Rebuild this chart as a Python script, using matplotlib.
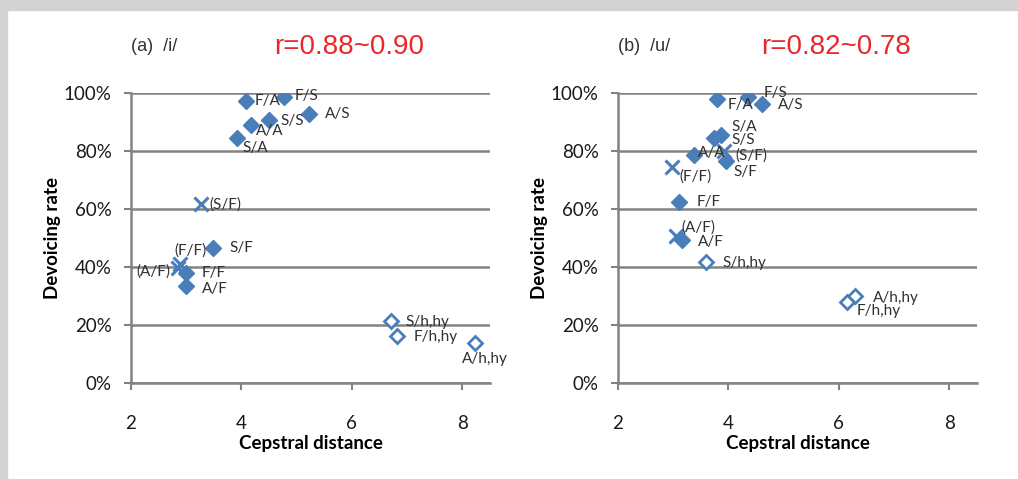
import matplotlib.pyplot as plt
from matplotlib.patches import Rectangle
from matplotlib.ticker import FuncFormatter

# (a) /i/
i_labels = ["F/A", "F/S", "A/S", "S/S", "A/A", "S/A", "(S/F)", "S/F",
            "(F/F)", "(A/F)", "F/F", "A/F", "S/h,hy", "F/h,hy", "A/h,hy"]
i_dist = [4.08, 4.77, 5.22, 4.49, 4.17, 3.92, 3.27, 3.48,
          2.89, 2.85, 2.99, 2.99, 6.70, 6.81, 8.22]
i_rate = [97.2, 98.6, 92.8, 90.7, 89.0, 84.5, 61.7, 46.6,
          41.0, 39.7, 37.9, 33.4, 21.4, 16.2, 13.8]

# (b) /u/
u_labels = ["F/A", "F/S", "A/S", "S/A", "S/S", "A/A", "(S/F)", "S/F",
            "(F/F)", "F/F", "(A/F)", "A/F", "S/h,hy", "A/h,hy", "F/h,hy"]
u_dist = [3.79, 4.35, 4.60, 3.86, 3.74, 3.37, 3.92, 3.95,
          2.98, 3.10, 3.05, 3.16, 3.59, 6.30, 6.14]
u_rate = [97.9, 98.6, 96.2, 85.5, 84.5, 78.6, 80.0, 76.6,
          74.5, 62.4, 50.7, 49.3, 41.7, 30.0, 27.9]

titles = ["(a)  /i/", "(b)  /u/"]
r_texts = ["r=0.88~0.90", "r=0.82~0.78"]

# label offsets in pixels (dx, dy, ha)
i_offsets = {
    "F/A": (9, 0, "left"), "F/S": (11, 1, "left"), "A/S": (16, 0, "left"),
    "S/S": (12, -1, "left"), "A/A": (5, -6, "left"), "S/A": (5, -10, "left"),
    "(S/F)": (8, 0, "left"), "S/F": (17, 0, "left"), "(F/F)": (10, 14, "center"),
    "(A/F)": (-8, -4, "right"), "F/F": (16, 0, "left"), "A/F": (16, -3, "left"),
    "S/h,hy": (15, -1, "left"), "F/h,hy": (17, -1, "left"),
    "A/h,hy": (10, -16, "center"),
}
u_offsets = {
    "F/A": (11, -6, "left"), "F/S": (16, 4, "left"), "A/S": (16, -1, "left"),
    "S/A": (11, 8, "left"), "S/S": (17, -2, "left"), "A/A": (4, 2, "left"),
    "(S/F)": (11, -5, "left"), "S/F": (8, -11, "left"), "(F/F)": (7, -10, "left"),
    "F/F": (18, 0, "left"), "(A/F)": (5, 8, "left"), "A/F": (16, -2, "left"),
    "S/h,hy": (17, -1, "left"), "A/h,hy": (17, -2, "left"),
    "F/h,hy": (10, -9, "left"),
}

blue = "#4a7ebb"
grid_gray = "#828282"
font = ["Lato", "DejaVu Sans"]
narrow = ["Liberation Sans Narrow", "Liberation Sans", "DejaVu Sans"]

W, H = 1018, 479
fig = plt.figure(figsize=(W / 100, H / 100), dpi=100)
fig.patches.append(Rectangle((0, 1 - 10 / H), 1, 10 / H, transform=fig.transFigure,
                             color="#d2d4d4", zorder=0))
fig.patches.append(Rectangle((0, 0), 7 / W, 1, transform=fig.transFigure,
                             color="#d2d4d4", zorder=0))


def marker_style(lab):
    if lab.startswith("("):
        return dict(marker="x", ms=10, mew=2.2, color=blue, ls="none")
    if "h,hy" in lab:
        return dict(marker="D", ms=7, mew=2, mfc="white", mec=blue, ls="none")
    return dict(marker="D", ms=8, color=blue, ls="none")


def draw_panel(left_px, labels, dist, rate, offsets, title, rtext):
    ax = fig.add_axes([left_px / W, 1 - 383 / H, 359 / W, 290 / H])
    ax.set_xlim(2, 8.5)
    ax.set_ylim(0, 100)
    for lab, x, y in zip(labels, dist, rate):
        ax.plot([x], [y], zorder=3, **marker_style(lab))
        dx, dy, ha = offsets[lab]
        ax.annotate(lab, (x, y), xytext=(dx * 0.72, dy * 0.72),
                    textcoords="offset points", ha=ha, va="center",
                    fontsize=11, color="#303030", family=font, zorder=4)

    ax.set_yticks([0, 20, 40, 60, 80, 100])
    ax.set_xticks([2, 4, 6, 8])
    ax.yaxis.set_major_formatter(FuncFormatter(lambda v, p: f"{v:.0f}%"))
    ax.grid(axis="y", color=grid_gray, lw=1.8)
    ax.set_axisbelow(True)
    for s in ["top", "right"]:
        ax.spines[s].set_visible(False)
    for s in ["left", "bottom"]:
        ax.spines[s].set_color(grid_gray)
        ax.spines[s].set_linewidth(1.8)
    ax.tick_params(axis="both", colors=grid_gray, width=1.5, length=5,
                   labelcolor="#1a1a1a", labelsize=13.5)
    ax.tick_params(axis="y", pad=9)
    ax.tick_params(axis="x", pad=18)
    for t in ax.get_xticklabels() + ax.get_yticklabels():
        t.set_family(font)

    ax.set_xlabel("Cepstral distance", fontsize=13.5, fontweight="bold",
                  family=font, labelpad=2)
    ax.set_ylabel("Devoicing rate", fontsize=13.5, fontweight="bold",
                  family=font, labelpad=2)

    ax.text(0.0, 1.16, title, transform=ax.transAxes, fontsize=13,
            color="#333333", family=narrow, va="center", ha="left")
    ax.text(0.40, 1.16, rtext, transform=ax.transAxes, fontsize=20,
            color="#e8282b", family=narrow, va="center", ha="left")
    return ax


draw_panel(131, i_labels, i_dist, i_rate, i_offsets, titles[0], r_texts[0])
draw_panel(618, u_labels, u_dist, u_rate, u_offsets, titles[1], r_texts[1])

fig.savefig("out.png", dpi=100)
